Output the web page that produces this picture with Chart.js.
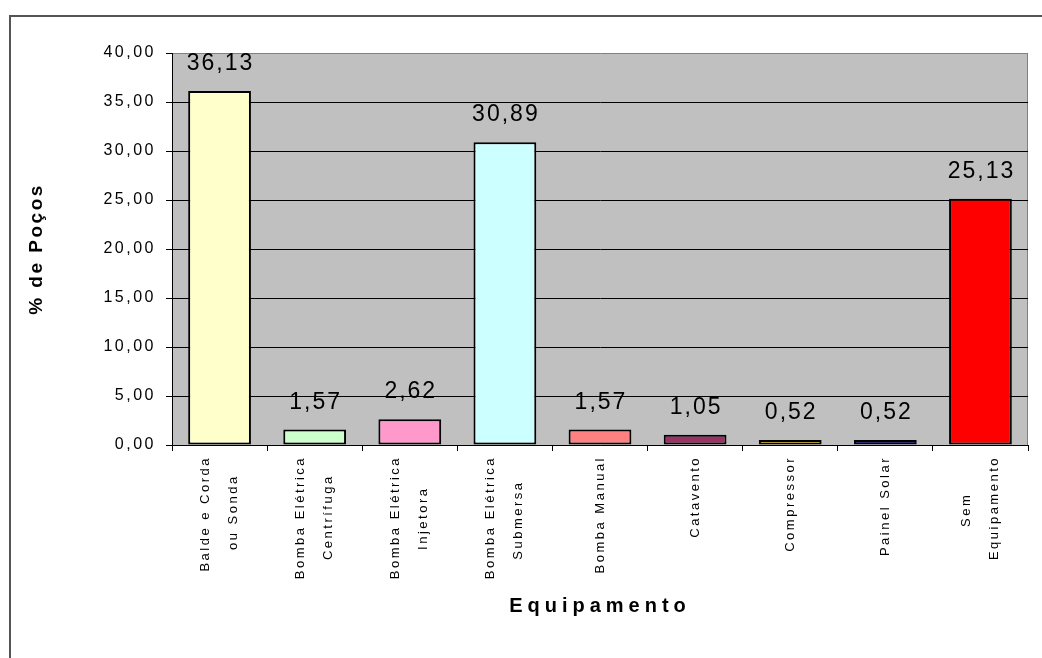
<!DOCTYPE html>
<html>
<head>
<meta charset="utf-8">
<title>% de Poços por Equipamento</title>
<script src="https://cdn.jsdelivr.net/npm/chart.js@4/dist/chart.umd.min.js"></script>
<style>
  html, body { margin: 0; padding: 0; background: #fff; overflow: hidden; }
  #frame { position: absolute; left: 9px; top: 15px; width: 1100px; height: 700px;
           border-top: 2px solid #555; border-left: 2px solid #555; }
  #wrap { position: absolute; left: 0; top: 0; width: 1042px; height: 658px; }
</style>
</head>
<body>
<div id="frame"></div>
<div id="wrap"><canvas id="chart"></canvas></div>
<script>
const FONT = '"Liberation Sans", Arial, sans-serif';

const categories = [
  ['Balde e Corda', 'ou Sonda'],
  ['Bomba Elétrica', 'Centrífuga'],
  ['Bomba Elétrica', 'Injetora'],
  ['Bomba Elétrica', 'Submersa'],
  'Bomba Manual',
  'Catavento',
  'Compressor',
  'Painel Solar',
  ['Sem', 'Equipamento']
];
const percentValues = [36.13, 1.57, 2.62, 30.89, 1.57, 1.05, 0.52, 0.52, 25.13];
const yTickValues = [0, 5, 10, 15, 20, 25, 30, 35, 40];
const xTitle = 'Equipamento';
const yTitle = '% de Poços';

const barColors = ['#ffffcc', '#ccffcc', '#ff99cc', '#ccffff', '#ff8080',
                   '#993366', '#ffcc00', '#000080', '#ff0000'];

// numbers are shown with a decimal comma, e.g. 36,13
const fmt = v => Number(v).toFixed(2).replace('.', ',');

const isMulti = i => i !== undefined && Array.isArray(categories[i]);

const AXIS_SPACING = '2.5px';

// Excel centres the lines of a wrapped label; Chart.js right-aligns rotated
// lines, so pad the shorter line with trailing spaces to mimic that
const measureCtx = document.createElement('canvas').getContext('2d');
function centerLines(lines) {
  measureCtx.font = '13px ' + FONT;
  measureCtx.letterSpacing = AXIS_SPACING;
  const widths = lines.map(l => measureCtx.measureText(l).width);
  const maxW = Math.max(...widths);
  const sp = measureCtx.measureText(' ').width;
  return lines.map((l, i) => l + ' '.repeat(Math.round((maxW - widths[i]) / 2 / sp)));
}

const plotBackground = {
  id: 'plotBackground',
  beforeDraw(chart) {
    const { ctx, chartArea: a } = chart;
    ctx.save();
    ctx.fillStyle = '#c0c0c0';
    ctx.fillRect(a.left, a.top, a.right - a.left, a.bottom - a.top);
    ctx.strokeStyle = '#808080';
    ctx.lineWidth = 1;
    ctx.beginPath();
    ctx.moveTo(a.right - 0.5, a.top);
    ctx.lineTo(a.right - 0.5, a.bottom);
    ctx.stroke();
    ctx.restore();
    // spacing for tick labels and the y title (layers drawn before the bars)
    ctx.letterSpacing = AXIS_SPACING;
  }
};

const valueLabels = {
  id: 'valueLabels',
  afterDatasetsDraw(chart) {
    const { ctx } = chart;
    const meta = chart.getDatasetMeta(0);
    ctx.save();
    ctx.font = '23px ' + FONT;
    ctx.letterSpacing = '2px';
    ctx.fillStyle = '#000';
    ctx.textAlign = 'center';
    ctx.textBaseline = 'alphabetic';
    meta.data.forEach((bar, i) => {
      ctx.fillText(fmt(percentValues[i]), bar.x + 1, bar.y - 21);
    });
    ctx.restore();
    // wider spacing for the x title, drawn after the bars (x grid z: 1)
    ctx.letterSpacing = '5px';
  }
};

new Chart(document.getElementById('chart'), {
  type: 'bar',
  data: {
    labels: categories,
    datasets: [{
      data: percentValues,
      backgroundColor: barColors,
      borderColor: '#000',
      borderWidth: 2,
      borderSkipped: false,
      barPercentage: 0.66,
      categoryPercentage: 1
    }]
  },
  options: {
    responsive: true,
    maintainAspectRatio: false,
    animation: false,
    layout: { padding: { top: 53, right: 10, left: 0, bottom: 0 } },
    plugins: {
      legend: { display: false },
      tooltip: { enabled: false }
    },
    scales: {
      x: {
        grid: { drawOnChartArea: false, offset: true, color: '#000', tickLength: 6, z: 1 },
        // border must come after the grid layer, which computes its position
        border: { color: '#000', width: 1, z: 1 },
        ticks: {
          autoSkip: false,
          minRotation: 90,
          maxRotation: 90,
          padding: 5,
          labelOffset: -14,
          color: '#000',
          font: c => ({ family: FONT, size: 13, lineHeight: isMulti(c.index) ? '28px' : '14px' }),
          callback: (value, index) => {
            const lab = categories[index];
            return Array.isArray(lab) ? centerLines(lab) : ['', lab];
          }
        },
        title: {
          display: true,
          text: xTitle,
          color: '#000',
          font: { family: FONT, size: 20, weight: 'bold' },
          padding: { top: 0, bottom: 40 }
        },
        afterFit(scale) { scale.height = 213; }
      },
      y: {
        min: 0,
        max: 40,
        afterBuildTicks(scale) { scale.ticks = yTickValues.map(v => ({ value: v })); },
        ticks: {
          padding: 10,
          color: '#000',
          font: { family: FONT, size: 16 },
          callback: v => fmt(v)
        },
        grid: {
          color: c => (c.tick && c.tick.value === 40 ? '#808080' : '#000'),
          tickColor: '#000',
          tickLength: 6
        },
        border: { color: '#000', width: 1 },
        title: {
          display: true,
          text: yTitle,
          color: '#000',
          font: { family: FONT, size: 19, weight: 'bold' },
          padding: { top: 25, bottom: 0 }
        },
        afterFit(scale) { scale.width = 172; }
      }
    }
  },
  plugins: [plotBackground, valueLabels]
});
</script>
</body>
</html>
